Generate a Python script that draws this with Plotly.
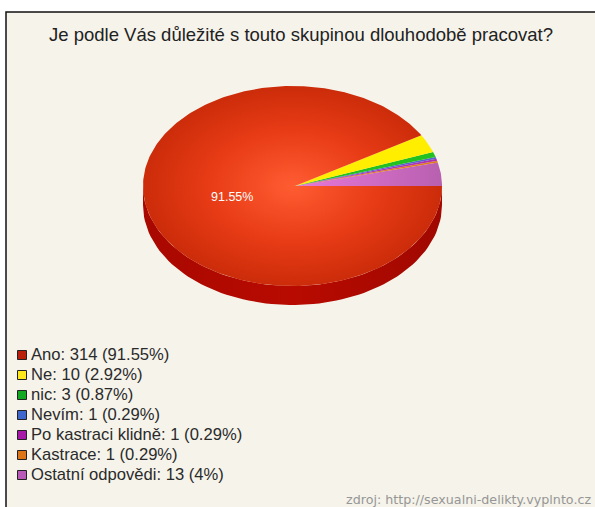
import numpy as np
import plotly.graph_objects as go

title = "Je podle Vás důležité s touto skupinou dlouhodobě pracovat?"
source = "zdroj: http://sexualni-delikty.vyplnto.cz"
categories = ["Ano", "Ne", "nic", "Nevím", "Po kastraci klidně", "Kastrace", "Ostatní odpovědi"]
counts = [314, 10, 3, 1, 1, 1, 13]
percent_labels = ["91.55%", "2.92%", "0.87%", "0.29%", "0.29%", "0.29%", "4%"]
slice_colors = ["#d0300f", "#ffee00", "#22c020", "#5a62d0", "#b030b0", "#e07a20", "#d070c8"]
legend_colors = ["#b8200c", "#ffe81a", "#12a822", "#3f66cc", "#a818a8", "#dd7418", "#b858b8"]

W, H = 595, 507
cx, cy, rx, ry, depth = 292.5, 186, 149.5, 100, 19
apex_x = 295

def pt(frac, r=1.0):
    a = 2 * np.pi * np.asarray(frac)
    return cx + rx * r * np.cos(a), cy - ry * r * np.sin(a)

fig = go.Figure()

# Extruded side of the pie
t = np.linspace(0.5, 1.0, 80)
xs, ys = pt(t)
fig.add_trace(go.Scatter(
    x=np.r_[xs, xs[::-1]], y=np.r_[ys, ys[::-1] + depth],
    mode="lines", line=dict(width=0), fill="toself", hoverinfo="skip",
    fillgradient=dict(type="horizontal", colorscale=[[0, "#a80800"], [0.5, "#b80a00"], [1, "#a00800"]]),
))

# Slices run counter-clockwise from 3 o'clock, last category first
total = sum(counts)
start = 0.0
mids = {}
for i in range(len(counts) - 1, -1, -1):
    frac = counts[i] / total
    t = np.linspace(start, start + frac, max(3, int(frac * 360)))
    xs, ys = pt(t)
    style = dict(fillcolor=slice_colors[i])
    if i == 0:
        style = dict(fillgradient=dict(type="radial", colorscale=[[0, "#ff5c32"], [0.55, "#e83c16"], [1, "#cc2c0a"]]))
    elif i == len(counts) - 1:
        style = dict(fillgradient=dict(type="horizontal", colorscale=[[0, "#e878d8"], [1, "#b860b0"]]))
    fig.add_trace(go.Scatter(
        x=np.r_[apex_x, xs, apex_x], y=np.r_[cy, ys, cy],
        mode="lines", line=dict(width=0), fill="toself",
        name=categories[i], hoverinfo="name", **style,
    ))
    mids[i] = start + frac / 2
    start += frac

# Legend: swatches and their labels
lx = 22
ly = 355 + 20 * np.arange(len(categories))
legend_text = [f"{c}: {n} ({p})" for c, n, p in zip(categories, counts, percent_labels)]
fig.add_trace(go.Scatter(
    x=[lx] * len(categories), y=ly, mode="markers",
    marker=dict(symbol="square", size=9, color=legend_colors, line=dict(color="#222222", width=1)),
    hoverinfo="skip",
))
fig.add_trace(go.Scatter(
    x=[lx + 9] * len(categories), y=ly + 1, mode="text",
    text=legend_text, textposition="middle right",
    textfont=dict(family="Liberation Sans", size=16.6, color="#2a2a2a"),
    hoverinfo="skip",
))

lab_x, lab_y = pt(mids[0], 0.42)

fig.update_layout(
    width=W, height=H, autosize=False, showlegend=False,
    margin=dict(l=0, r=0, t=0, b=0),
    paper_bgcolor="#ffffff", plot_bgcolor="rgba(0,0,0,0)",
    xaxis=dict(range=[0, W], visible=False, fixedrange=True),
    yaxis=dict(range=[H, 0], visible=False, fixedrange=True),
    shapes=[
        dict(type="rect", x0=6, y0=12, x1=W + 5, y1=H + 5, layer="below",
             fillcolor="#f5f3ea", line=dict(color="#111111", width=1.5)),
    ],
    annotations=[
        dict(x=301, y=34, text=title, showarrow=False, xanchor="center", yanchor="middle",
             font=dict(family="Liberation Sans", size=18.5, color="#222222")),
        dict(x=lab_x, y=lab_y, text=percent_labels[0], showarrow=False,
             font=dict(family="Liberation Sans", size=12.5, color="#ffffff")),
        dict(x=593, y=499, text=source, showarrow=False, xanchor="right", yanchor="middle",
             font=dict(family="DejaVu Sans", size=12.7, color="#969696")),
    ],
)

fig.write_html("out.html", config={"displayModeBar": False},
               post_script="document.body.style.margin='0';document.body.style.overflow='hidden';")
